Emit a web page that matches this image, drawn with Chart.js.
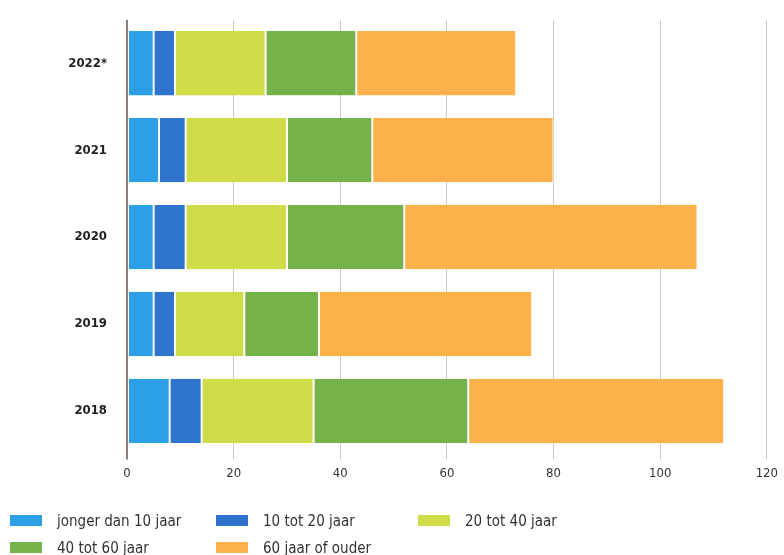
<!DOCTYPE html>
<html>
<head>
<meta charset="utf-8">
<script src="https://cdn.jsdelivr.net/npm/chart.js@4"></script>
<style>
  html, body { margin: 0; padding: 0; background: #fff; }
  #wrap { position: relative; width: 784px; height: 555px; }
  #chart { position: absolute; left: 0; top: 0; }
  .leg { position: absolute; height: 20px; font: 15px "DejaVu Sans Condensed", "DejaVu Sans", sans-serif; color: #333; white-space: nowrap; }
  .leg span.box { position: absolute; left: 0; top: 4px; width: 32px; height: 11px; }
  .leg span.txt { position: absolute; left: 47px; top: 0; line-height: 20px; }
</style>
</head>
<body>
<div id="wrap">
  <canvas id="chart" width="784" height="555"></canvas>
  <div id="legend"></div>
</div>
<script>
const years = ['2022*', '2021', '2020', '2019', '2018'];
const seriesNames = ['jonger dan 10 jaar', '10 tot 20 jaar', '20 tot 40 jaar', '40 tot 60 jaar', '60 jaar of ouder'];
const under10 = [5, 6, 5, 5, 8];
const from10to20 = [4, 5, 6, 4, 6];
const from20to40 = [17, 19, 19, 13, 21];
const from40to60 = [17, 16, 22, 14, 29];
const over60 = [30, 34, 55, 40, 48];
const xTicks = [0, 20, 40, 60, 80, 100, 120];

const colors = ['#2c9fe6', '#2f74cc', '#cedd47', '#76b24a', '#fdb14b'];
const values = [under10, from10to20, from20to40, from40to60, over60];

// legend grid positions (left x, centre y)
const legendPos = [[10, 521], [216, 521], [418, 521], [10, 548], [216, 548]];

const ctx = document.getElementById('chart').getContext('2d');
const chart = new Chart(ctx, {
  type: 'bar',
  data: {
    labels: years,
    datasets: seriesNames.map((name, i) => ({
      label: name,
      data: values[i],
      backgroundColor: colors[i],
      borderColor: '#ffffff',
      borderWidth: { left: 1, right: 1, top: 0, bottom: 0 },
      borderSkipped: false,
      categoryPercentage: 1,
      barPercentage: 0.74
    }))
  },
  options: {
    indexAxis: 'y',
    responsive: false,
    animation: false,
    layout: { padding: { top: 2, right: 15, bottom: 68, left: 0 } },
    plugins: { legend: { display: false }, tooltip: { enabled: false } },
    scales: {
      x: {
        stacked: true,
        min: 0,
        max: 120,
        afterBuildTicks: s => { s.ticks = xTicks.map(v => ({ value: v })); },
        grid: {
          color: c => (c.tick && c.tick.value === 0 ? '#8c7f78' : '#c9c9c9'),
          lineWidth: c => (c.tick && c.tick.value === 0 ? 2 : 1),
          tickLength: 5,
          drawTicks: true
        },
        border: { display: false },
        ticks: {
          padding: 6,
          color: '#333',
          font: { family: '"DejaVu Sans Condensed", "DejaVu Sans", sans-serif', size: 13 }
        }
      },
      y: {
        stacked: true,
        afterFit: s => { s.width = 127; },
        grid: { display: false },
        border: { display: false },
        ticks: {
          padding: 12,
          color: '#222',
          font: { family: '"DejaVu Sans Condensed", "DejaVu Sans", sans-serif', size: 13, weight: 'bold' }
        }
      }
    }
  }
});

// html legend built from the dataset labels
const legendEl = document.getElementById('legend');
chart.data.datasets.forEach((ds, i) => {
  const item = document.createElement('div');
  item.className = 'leg';
  item.style.left = legendPos[i][0] + 'px';
  item.style.top = (legendPos[i][1] - 10) + 'px';
  item.innerHTML = '<span class="box" style="background:' + ds.backgroundColor + '"></span><span class="txt">' + ds.label + '</span>';
  legendEl.appendChild(item);
});
</script>
</body>
</html>
